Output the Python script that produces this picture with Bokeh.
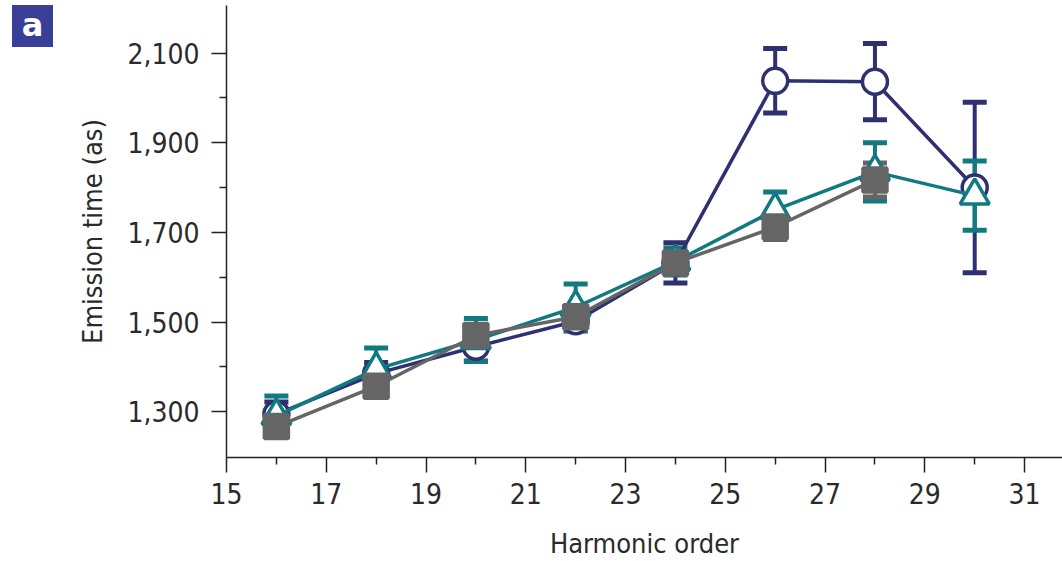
from bokeh.plotting import figure
from bokeh.models import (Range1d, FixedTicker, Whisker, ColumnDataSource, Div,
                          TeeHead, NumeralTickFormatter)
from bokeh.layouts import row
from bokeh.embed import file_html
from bokeh.resources import INLINE

# ---- data ----
harmonic_circle = [16, 18, 20, 22, 24, 26, 28, 30]
time_circle = [1295, 1385, 1445, 1502, 1632, 2038, 2036, 1800]
err_circle = [27, 25, 32, 22, 45, 72, 85, 190]

harmonic_tri = [16, 18, 20, 22, 24, 26, 28, 30]
time_tri = [1291, 1395, 1460, 1533, 1635, 1750, 1835, 1782]
err_tri = [44, 47, 48, 52, 30, 40, 65, 77]

harmonic_sq = [16, 18, 20, 22, 24, 26, 28]
time_sq = [1267, 1357, 1470, 1512, 1632, 1712, 1817]
err_sq = [12, 12, 12, 12, 12, 28, 38]

x_major = [15, 17, 19, 21, 23, 25, 27, 29, 31]
x_minor = [16, 18, 20, 22, 24, 26, 28, 30]
y_major = [1300, 1500, 1700, 1900, 2100]
y_minor = [1400, 1600, 1800, 2000]

NAVY = "#2e3070"
TEAL = "#117a80"
GRAY = "#656565"
FONT = "DejaVu Sans Condensed"

p = figure(width=1002, height=561, output_backend="svg", toolbar_location=None,
           x_range=Range1d(15, 31.76), y_range=Range1d(1198, 2206),
           min_border_left=166, min_border_right=0, min_border_top=5,
           min_border_bottom=102)
p.outline_line_color = None
p.xgrid.visible = False
p.ygrid.visible = False
p.background_fill_color = "white"


def series(xs, ys, es, color, marker, size, fill):
    src = ColumnDataSource(dict(x=xs, y=ys, lo=[y - e for y, e in zip(ys, es)],
                                hi=[y + e for y, e in zip(ys, es)]))
    p.line("x", "y", source=src, line_color=color, line_width=3.5)
    w = Whisker(base="x", lower="lo", upper="hi", source=src, line_color=color,
                line_width=4,
                upper_head=TeeHead(size=24, line_color=color, line_width=5),
                lower_head=TeeHead(size=24, line_color=color, line_width=5))
    p.add_layout(w)
    p.scatter("x", "y", source=src, marker=marker, size=size, line_color=color,
              line_width=3.5, fill_color=fill)


series(harmonic_circle, time_circle, err_circle, NAVY, "circle", 25, "white")
series(harmonic_tri, time_tri, err_tri, TEAL, "triangle", 29, "white")
series(harmonic_sq, time_sq, err_sq, GRAY, "square", 24, GRAY)

# axes
for ax in (p.xaxis[0], p.yaxis[0]):
    ax.axis_line_color = "#222222"
    ax.axis_line_width = 1.5
    ax.major_tick_line_color = "#222222"
    ax.minor_tick_line_color = "#222222"
    ax.major_tick_line_width = 1.5
    ax.minor_tick_line_width = 1.5
    ax.major_label_text_font = FONT
    ax.axis_label_text_font = FONT
    ax.major_label_text_color = "#2a2a2a"
    ax.axis_label_text_color = "#2a2a2a"
    ax.axis_label_text_font_style = "normal"
    ax.major_tick_in = 0
    ax.minor_tick_in = 0
    ax.major_tick_out = 15
    ax.minor_tick_out = 7
    ax.major_label_text_font_size = "28px"
    ax.axis_label_text_font_size = "27px"

p.xaxis.ticker = FixedTicker(ticks=x_major, minor_ticks=x_minor)
p.yaxis.ticker = FixedTicker(ticks=y_major, minor_ticks=y_minor)
p.yaxis.formatter = NumeralTickFormatter(format="0,0")
p.xaxis.major_label_standoff = 10
p.yaxis.major_label_standoff = 12
p.xaxis.axis_label = "Harmonic order"
p.yaxis.axis_label = "Emission time (as)"
p.xaxis.axis_label_standoff = 21
p.yaxis.axis_label_standoff = 16

# panel label
tag = Div(text="a", width=41, height=42, margin=(5, 7, 0, 12),
          styles={"background-color": "#393f98", "color": "white",
                  "font-family": "DejaVu Sans", "font-weight": "bold",
                  "font-size": "32px", "text-align": "center",
                  "line-height": "40px"})

layout = row(tag, p, spacing=0)
open("out.html", "w").write(file_html(layout, INLINE))
